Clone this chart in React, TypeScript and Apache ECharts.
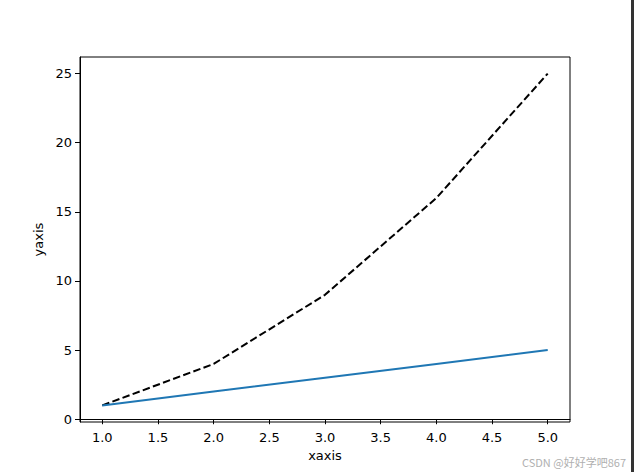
import React, { useEffect, useRef } from "react";
import * as echarts from "echarts";

const xValues = [1, 2, 3, 4, 5];
const linearValues = [1, 2, 3, 4, 5];
const squareValues = [1, 4, 9, 16, 25];
const xTicks = [1.0, 1.5, 2.0, 2.5, 3.0, 3.5, 4.0, 4.5, 5.0];
const yTicks = [0, 5, 10, 15, 20, 25];
const xName = "xaxis";
const yName = "yaxis";
const watermark = "CSDN @好好学吧867";

const FONT = "DejaVu Sans";

export default function App() {
  const ref = useRef<HTMLDivElement>(null);
  useEffect(() => {
    if (!ref.current) return;
    const chart = echarts.init(ref.current, null, { renderer: "svg" });
    chart.setOption({
      animation: false,
      backgroundColor: "#ffffff",
      textStyle: { fontFamily: FONT },
      grid: {
        left: 80,
        right: 64,
        top: 57,
        bottom: 50,
        show: true,
        borderColor: "#000000",
        borderWidth: 1,
        backgroundColor: "transparent",
      },
      xAxis: {
        type: "value",
        min: 0.8,
        max: 5.2,
        name: xName,
        nameLocation: "middle",
        nameGap: 27,
        nameTextStyle: { fontFamily: FONT, fontSize: 13, color: "#000" },
        axisLine: { show: true, lineStyle: { color: "#000", width: 1 } },
        axisTick: {
          show: true,
          length: 5,
          customValues: xTicks,
          lineStyle: { color: "#000" },
        },
        axisLabel: {
          customValues: xTicks,
          margin: 9,
          fontFamily: FONT,
          fontSize: 13,
          color: "#000",
          formatter: (v: number) => v.toFixed(1),
        },
        splitLine: { show: false },
      },
      yAxis: {
        type: "value",
        min: -0.2,
        max: 26.2,
        name: yName,
        nameLocation: "middle",
        nameGap: 33,
        nameTextStyle: { fontFamily: FONT, fontSize: 13, color: "#000" },
        axisLine: { show: true, lineStyle: { color: "#000", width: 1 } },
        axisTick: {
          show: true,
          length: 5,
          customValues: yTicks,
          lineStyle: { color: "#000" },
        },
        axisLabel: {
          customValues: yTicks,
          margin: 8,
          fontFamily: FONT,
          fontSize: 13,
          color: "#000",
        },
        splitLine: { show: false },
      },
      series: [
        {
          type: "line",
          data: xValues.map((x, i) => [x, squareValues[i]]),
          showSymbol: false,
          lineStyle: { color: "#000000", width: 2, type: [7.5, 3.3] },
          z: 2,
        },
        {
          type: "line",
          data: xValues.map((x, i) => [x, linearValues[i]]),
          showSymbol: false,
          lineStyle: { color: "#1f77b4", width: 2 },
          z: 3,
        },
      ],
      graphic: [
        {
          type: "rect",
          shape: { x: 631, y: 0, width: 3, height: 472 },
          style: { fill: "#333333" },
        },
        {
          type: "text",
          right: 8,
          top: 456,
          style: {
            text: watermark,
            fontFamily: "Noto Sans CJK SC",
            fontSize: 11,
            fill: "#b0b0b0",
          },
        },
      ],
    });
    return () => chart.dispose();
  }, []);
  return <div ref={ref} style={{ width: 634, height: 472, position: "absolute", left: 0, top: 0 }} />;
}
